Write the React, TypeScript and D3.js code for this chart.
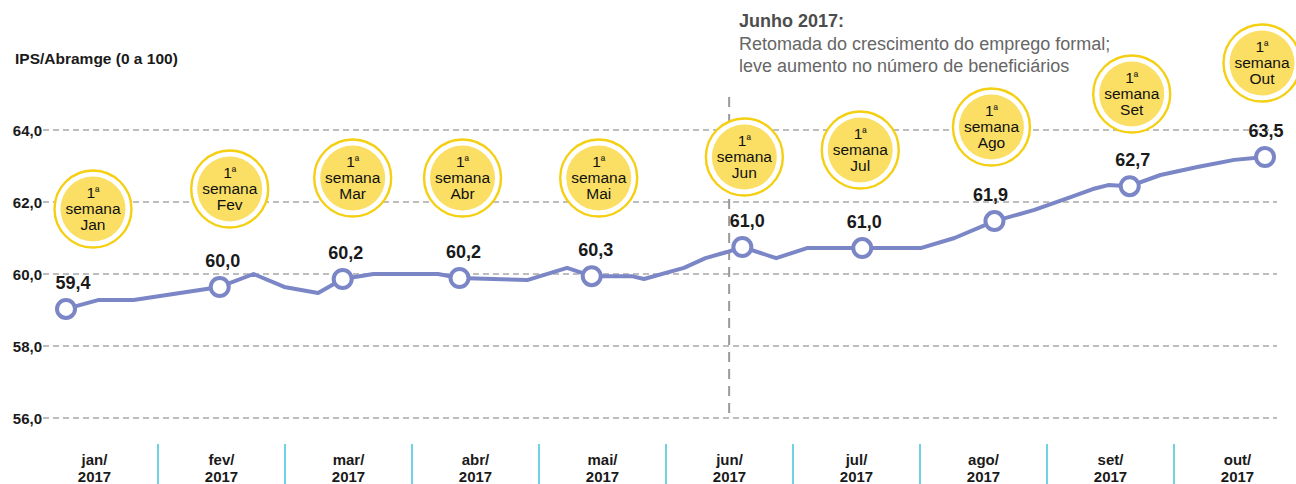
import React from "react";
import * as d3 from "d3";

// weekly IPS/Abramge index, 2017 (x = weeks since 1st week of jan)
const weeks = [
  0, 1.07, 2.2, 5.0, 6.1, 7.1, 8.2, 9.0, 10.0, 12.1, 12.8, 15.0, 16.3, 17.1,
  18.4, 18.8, 20.1, 20.8, 21.5, 22.0, 23.1, 24.1, 25.9, 27.8, 28.9, 30.2, 31.5,
  32.7, 33.4, 33.9, 34.6, 35.6, 36.8, 38.0, 39.0,
];
const ipsValues = [
  59.03, 59.28, 59.28, 59.64, 60.0, 59.64, 59.47, 59.86, 60.0, 60.0, 59.89,
  59.83, 60.17, 59.94, 59.94, 59.86, 60.17, 60.44, 60.61, 60.75, 60.44, 60.72,
  60.72, 60.72, 61.0, 61.47, 61.78, 62.14, 62.36, 62.47, 62.44, 62.75, 62.97,
  63.17, 63.25,
];

// first week of each month
const markerIndex = [0, 3, 7, 10, 13, 19, 22, 25, 30, 34];
const markerLabels = ["59,4", "60,0", "60,2", "60,2", "60,3", "61,0", "61,0", "61,9", "62,7", "63,5"];

const months = ["jan", "fev", "mar", "abr", "mai", "jun", "jul", "ago", "set", "out"];
const bubbleMonths = ["Jan", "Fev", "Mar", "Abr", "Mai", "Jun", "Jul", "Ago", "Set", "Out"];
const yTicks = [56, 58, 60, 62, 64];

const annotationWeek = 21.57;
const annotationTitle = "Junho 2017:";
const annotationLines = [
  "Retomada do crescimento do emprego formal;",
  "leve aumento no número de beneficiários",
];

// layout nudges (pixels) for the value labels and the yellow bubbles
const labelDx = [7, 3, 3, 4, 4, 5, 2, -4, 3, 1];
const bubbleDx = [27, 10, 10, 3, 7, 2, -2, -3, 2, -3];
const bubbleY = [209, 189, 178, 178, 178, 157, 150, 127, 94, 63];

const W = 1296;
const H = 484;
const FONT = "'Liberation Sans', Arial, Helvetica, sans-serif";
const LINE = "#7b86c6";

const locale = d3.formatLocale({ decimal: ",", thousands: ".", grouping: [3], currency: ["R$", ""] });
const fmt = locale.format(".1f");

const App = () => {
  const x = d3.scaleLinear().domain([0, 39]).range([66, 1265]);
  const y = d3.scaleLinear().domain([56, 64]).range([418, 130]);
  const band = d3.scaleBand().domain(months).range([31, 1301]);

  const pts = weeks.map((w, i) => [w, ipsValues[i]] as [number, number]);
  const line = d3
    .line<[number, number]>()
    .x((d) => x(d[0]))
    .y((d) => y(d[1]));

  const ax = x(annotationWeek);

  return (
    <svg
      width={W}
      height={H}
      style={{ position: "absolute", left: 0, top: 0, background: "#fff" }}
      fontFamily={FONT}
    >
      <text x={15} y={64} fontSize={15.5} fontWeight="bold" fill="#1a1a1a">
        IPS/Abramge (0 a 100)
      </text>

      {/* grid + y ticks */}
      {yTicks.map((t) => (
        <g key={t}>
          <line
            x1={43}
            x2={1277}
            y1={y(t)}
            y2={y(t)}
            stroke="#a8a8a8"
            strokeWidth={1.4}
            strokeDasharray="6,4"
          />
          <text x={42} y={y(t) + 5.5} textAnchor="end" fontSize={15} fontWeight="bold" fill="#1a1a1a">
            {fmt(t)}
          </text>
        </g>
      ))}

      {/* june annotation */}
      <line x1={ax} x2={ax} y1={97} y2={418} stroke="#9a9a9a" strokeWidth={2} strokeDasharray="10,7" />
      <text x={739} y={27} fontSize={18} fontWeight="bold" fill="#4d4d4d">
        {annotationTitle}
      </text>
      {annotationLines.map((l, i) => (
        <text key={i} x={739} y={50 + i * 22} fontSize={18} fill="#666">
          {l}
        </text>
      ))}

      {/* month bubbles */}
      {markerIndex.map((idx, i) => {
        const cx = x(weeks[idx]) + bubbleDx[i];
        const cy = bubbleY[i];
        return (
          <g key={"b" + i}>
            <circle cx={cx} cy={cy} r={38.5} fill="#fff" stroke="#f5cf12" strokeWidth={2.4} />
            <circle cx={cx} cy={cy} r={32.5} fill="#fadf64" />
            <g textAnchor="middle" fill="#111" fontSize={15.5}>
              <text x={cx} y={cy - 11}>
                1<tspan fontSize={12} dy={-2}>ª</tspan>
              </text>
              <text x={cx} y={cy + 5}>semana</text>
              <text x={cx} y={cy + 21}>{bubbleMonths[i]}</text>
            </g>
          </g>
        );
      })}

      {/* series */}
      <path d={line(pts) || ""} fill="none" stroke={LINE} strokeWidth={4} strokeLinejoin="round" />
      {markerIndex.map((idx, i) => (
        <g key={"m" + i}>
          <circle cx={x(weeks[idx])} cy={y(ipsValues[idx])} r={9} fill="#fff" stroke={LINE} strokeWidth={4} />
          <text
            x={x(weeks[idx]) + labelDx[i]}
            y={y(ipsValues[idx]) - 20}
            textAnchor="middle"
            fontSize={18}
            fontWeight="bold"
            fill="#1a1a1a"
          >
            {markerLabels[i]}
          </text>
        </g>
      ))}

      {/* month axis */}
      {months.map((m, i) => (
        <g key={m}>
          {i > 0 && (
            <line
              x1={band(m)!}
              x2={band(m)!}
              y1={444}
              y2={H}
              stroke="#3fc3dd"
              strokeWidth={1.5}
            />
          )}
          <text
            x={band(m)! + band.bandwidth() / 2}
            textAnchor="middle"
            fontSize={15}
            fontWeight="bold"
            fill="#1a1a1a"
          >
            <tspan x={band(m)! + band.bandwidth() / 2} y={465}>
              {m}/
            </tspan>
            <tspan x={band(m)! + band.bandwidth() / 2} y={482}>
              2017
            </tspan>
          </text>
        </g>
      ))}
    </svg>
  );
};

export default App;
